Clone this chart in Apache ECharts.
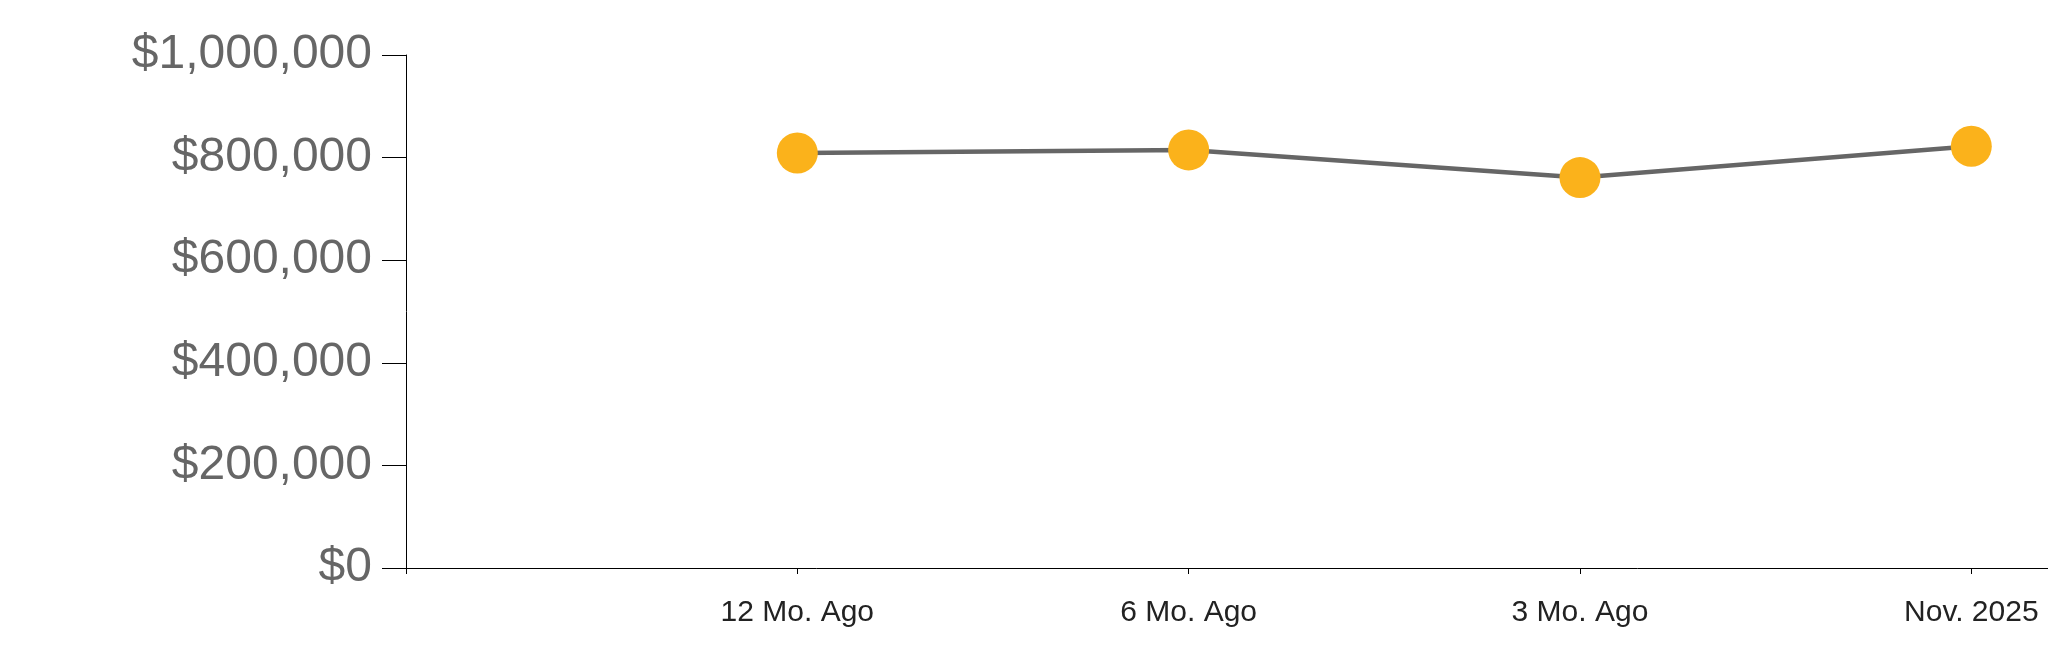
<!DOCTYPE html>
<html>
<head>
<meta charset="utf-8">
<script src="https://cdn.jsdelivr.net/npm/echarts@6/dist/echarts.min.js"></script>
<style>
html,body{margin:0;padding:0;background:#fff;}
#chart{width:2048px;height:663px;}
</style>
</head>
<body>
<div id="chart"></div>
<script>
const categories = ['12 Mo. Ago', '6 Mo. Ago', '3 Mo. Ago', 'Nov. 2025'];
const values = [809000, 815000, 761000, 822000];
const yTicks = [0, 200000, 400000, 600000, 800000, 1000000];

const points = values.map((v, i) => [i + 1, v]);
const xPositions = categories.map((c, i) => i + 1);

const chart = echarts.init(document.getElementById('chart'), null, {renderer: 'canvas'});
chart.setOption({
  animation: false,
  backgroundColor: '#fff',
  grid: {left: 406, right: 0, top: 55, bottom: 95, containLabel: false, outerBoundsMode: 'none'},
  xAxis: {
    type: 'value',
    min: 0,
    max: 4.196,
    splitLine: {show: false},
    axisLine: {show: true, onZero: false, lineStyle: {color: '#000', width: 1}},
    axisTick: {show: true, length: 6, customValues: [0].concat(xPositions), lineStyle: {color: '#000'}},
    axisLabel: {
      show: true,
      customValues: xPositions,
      margin: 30,
      fontFamily: 'Liberation Sans, Arial, sans-serif',
      fontSize: 30,
      color: '#222',
      formatter: v => categories[Math.round(v) - 1] || ''
    }
  },
  yAxis: {
    type: 'value',
    min: yTicks[0],
    max: yTicks[yTicks.length - 1],
    interval: yTicks[1] - yTicks[0],
    splitLine: {show: false},
    axisLine: {show: true, lineStyle: {color: '#000', width: 1}},
    axisTick: {show: true, length: 24, lineStyle: {color: '#000'}},
    axisLabel: {
      margin: 34,
      fontFamily: 'Liberation Sans, Arial, sans-serif',
      fontSize: 48,
      color: '#666',
      formatter: v => '$' + Number(v).toLocaleString('en-US')
    }
  },
  series: [{
    type: 'line',
    data: points,
    symbol: 'circle',
    symbolSize: 41,
    lineStyle: {color: '#666', width: 4.5},
    itemStyle: {color: '#FBB21B', borderWidth: 0},
    z: 3
  }]
});
</script>
</body>
</html>
